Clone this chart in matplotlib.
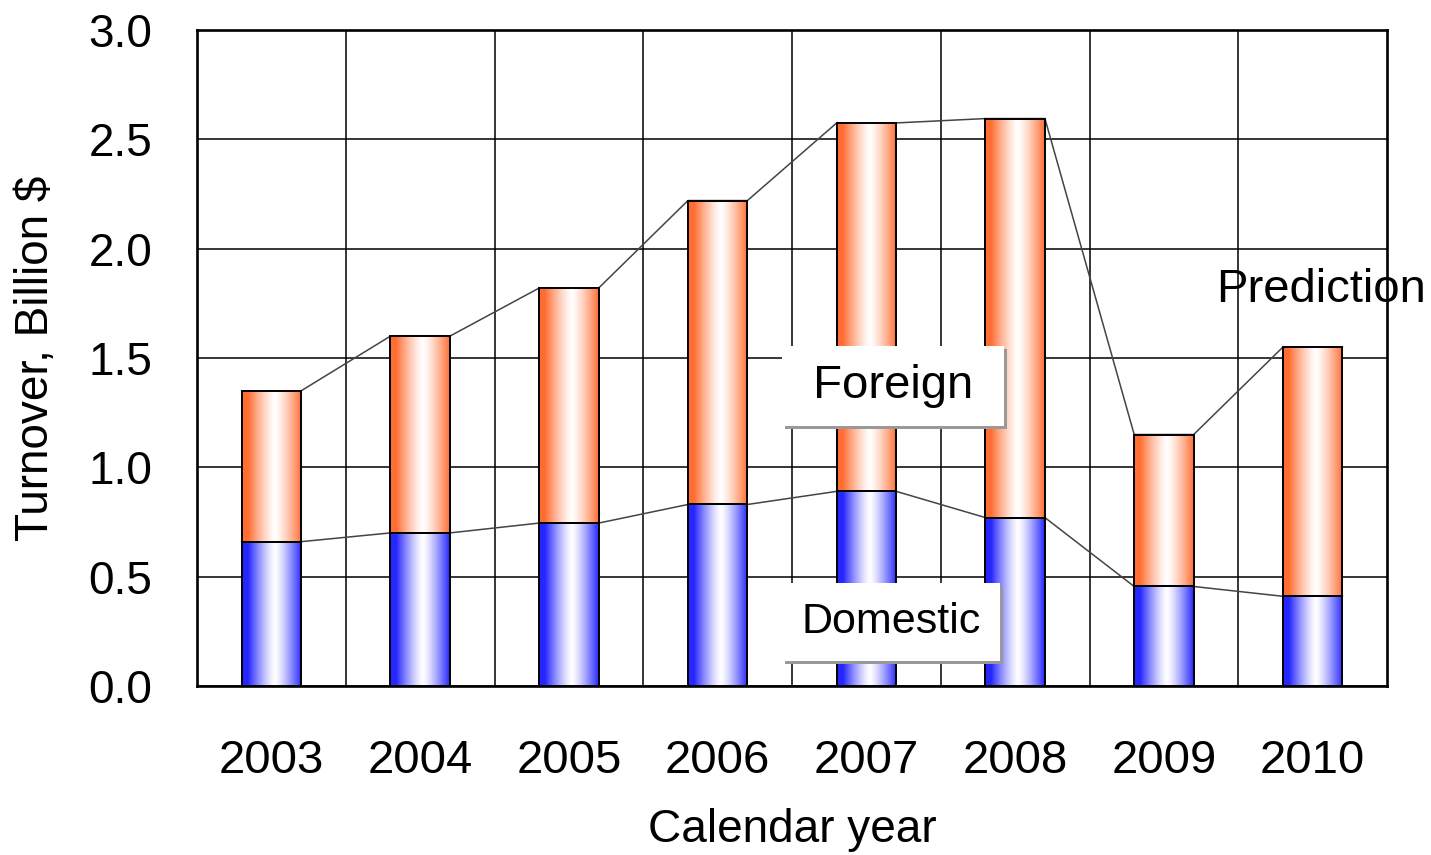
import numpy as np
import matplotlib.pyplot as plt
from matplotlib import patheffects
from matplotlib.patches import Rectangle

plt.rcParams['font.family'] = ['Liberation Sans', 'DejaVu Sans']

years = ['2003', '2004', '2005', '2006', '2007', '2008', '2009', '2010']
domestic = [0.66, 0.70, 0.745, 0.83, 0.89, 0.77, 0.455, 0.41]
foreign = [0.69, 0.90, 1.075, 1.39, 1.685, 1.825, 0.695, 1.14]

blue = np.array([0.15, 0.15, 1.0])
orange = np.array([1.0, 0.43, 0.2])
w = 0.4


def gradient(col, n=200):
    u = np.linspace(0, 1, n)
    k = np.clip(np.abs(u - 0.55) / 0.45, 0, 1) ** 1.3
    img = np.ones((1, n, 3))
    for c in range(3):
        img[0, :, c] = 1 - k * (1 - col[c])
    return img


fig = plt.figure(figsize=(14.31, 8.55), dpi=100)
ax = fig.add_axes([0.1377, 0.1977, 0.8316, 0.7672])

x = np.arange(len(years))
tot = np.array(domestic) + np.array(foreign)

# lines from right edge of a bar to left edge of the next one
lx = np.ravel(np.column_stack([x - w / 2, x + w / 2]))
ax.plot(lx, np.repeat(domestic, 2), color='#444444', lw=1.1, zorder=2)
ax.plot(lx, np.repeat(tot, 2), color='#444444', lw=1.1, zorder=2)

for i in x:
    for y0, h, col in [(0, domestic[i], blue), (domestic[i], foreign[i], orange)]:
        ax.imshow(gradient(col), extent=(i - w / 2, i + w / 2, y0, y0 + h),
                  aspect='auto', zorder=3, interpolation='bilinear')
        r = Rectangle((i - w / 2, y0), w, h, facecolor='none', edgecolor='black',
                      lw=1.4, zorder=4)
        ax.add_patch(r)

ax.set_xlim(-0.5, len(years) - 0.5)
ax.set_ylim(0, 3.0)
ax.set_yticks(np.arange(0, 3.01, 0.5))
ax.set_yticklabels(['%.1f' % v for v in np.arange(0, 3.01, 0.5)])
ax.set_xticks(x)
ax.set_xticklabels(years)
ax.set_xticks(x[:-1] + 0.5, minor=True)
ax.tick_params(axis='both', which='both', length=0)
ax.tick_params(axis='x', labelsize=34, pad=38)
ax.tick_params(axis='y', labelsize=33, pad=32)
ax.grid(True, axis='y', which='major', color='black', lw=1.1, zorder=0)
ax.grid(True, axis='x', which='minor', color='black', lw=1.1, zorder=0)
ax.set_axisbelow(True)
for s in ax.spines.values():
    s.set_linewidth(1.9)

ax.set_xlabel('Calendar year', fontsize=33, labelpad=18)
ax.set_ylabel('Turnover, Billion $', fontsize=33, labelpad=22)

shadow = [patheffects.withSimplePatchShadow(offset=(2.2, -2.2), shadow_rgbFace='#999999', alpha=1.0)]
for txt, xx, yy, fs, pd_ in [(' Foreign ', 4.18, 1.372, 34, 0.38), ('Domestic', 4.165, 0.293, 31, 0.45)]:
    t = ax.text(xx, yy, txt, fontsize=fs, ha='center', va='center', zorder=6,
                bbox=dict(boxstyle='square,pad=%.2f' % pd_, facecolor='white', edgecolor='none'))
    t.get_bbox_patch().set_path_effects(shadow)

ax.text(6.35, 1.81, 'Prediction', fontsize=34, ha='left', va='center', zorder=6)

fig.savefig('out.png', dpi=100)
